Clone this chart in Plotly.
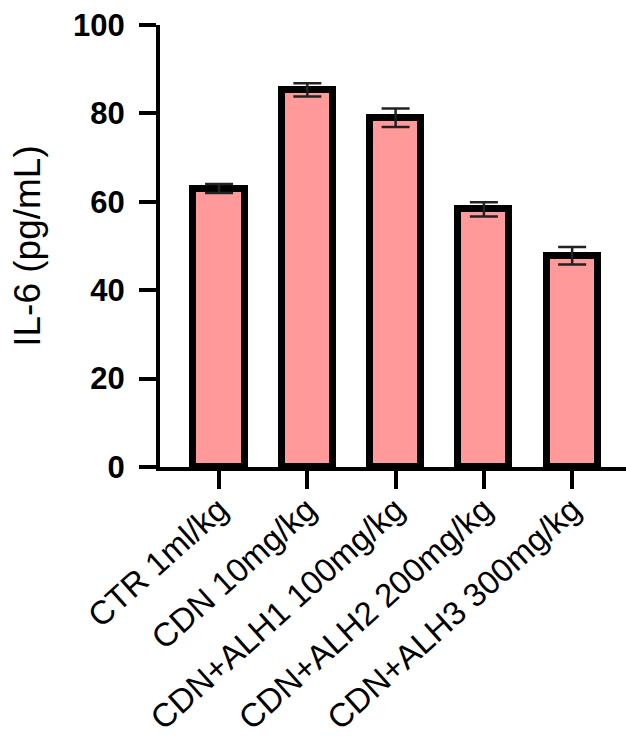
import plotly.graph_objects as go

# IL-6 levels per treatment group (mean ± SEM)
groups = ["CTR 1ml/kg", "CDN 10mg/kg", "CDN+ALH1 100mg/kg", "CDN+ALH2 200mg/kg", "CDN+ALH3 300mg/kg"]
il6_mean = [63.0, 85.3, 79.0, 58.3, 47.8]
il6_sem = [1.0, 1.5, 2.1, 1.6, 2.0]
y_ticks = [0, 20, 40, 60, 80, 100]

FONT = "Liberation Sans, Arial, sans-serif"

fig = go.Figure(
    go.Bar(
        x=list(range(len(groups))),
        y=il6_mean,
        width=0.58,
        marker=dict(color="#FF999A", line=dict(color="black", width=7)),
        error_y=dict(type="data", array=il6_sem, visible=True,
                     color="#222222", thickness=2.5, width=14),
    )
)

fig.update_layout(
    width=626, height=755,
    margin=dict(l=160, r=0, t=25, b=288, autoexpand=False),
    paper_bgcolor="white", plot_bgcolor="white",
    showlegend=False,
    bargap=0,
)

fig.update_xaxes(
    automargin=False,
    range=[-0.669, 4.61],
    tickmode="array", tickvals=list(range(len(groups))), ticktext=groups,
    tickangle=-42,
    tickfont=dict(family=FONT, size=33, color="black"),
    ticklabelstandoff=-12,
    showline=True, linecolor="black", linewidth=4,
    ticks="outside", ticklen=18, tickwidth=4, tickcolor="black",
    showgrid=False, zeroline=False,
)

fig.update_yaxes(
    automargin=False,
    range=[0, 100],
    tickmode="array", tickvals=y_ticks,
    tickfont=dict(family=FONT, size=31, color="black", weight="bold"),
    ticklabelstandoff=8,
    showline=True, linecolor="black", linewidth=4,
    ticks="outside", ticklen=17, tickwidth=4, tickcolor="black",
    showgrid=False, zeroline=False,
    title=dict(text="IL-6 (pg/mL)", font=dict(family=FONT, size=37, color="black"),
               standoff=22),
)

fig.write_html("out.html")
